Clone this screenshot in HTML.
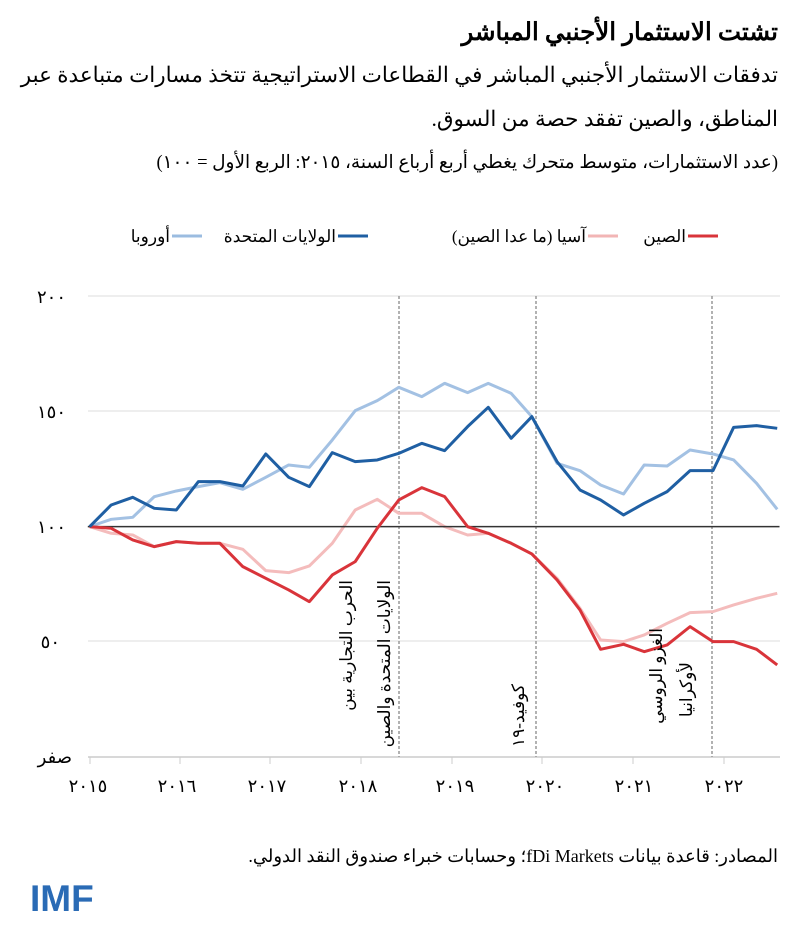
<!DOCTYPE html>
<html><head><meta charset="utf-8"><style>
html,body{margin:0;padding:0;background:#fff;width:800px;height:944px;overflow:hidden}
</style></head><body>
<svg width="800" height="944" xmlns="http://www.w3.org/2000/svg" font-family="'Liberation Serif','Noto Sans CJK SC',serif">
<g direction="rtl" text-anchor="start">
<text x="778" y="40" font-size="24.5" font-weight="bold" fill="#000">تشتت الاستثمار الأجنبي المباشر</text>
<text x="778" y="82" font-size="21.5" fill="#000">تدفقات الاستثمار الأجنبي المباشر في القطاعات الاستراتيجية تتخذ مسارات متباعدة عبر</text>
<text x="778" y="126" font-size="21.5" fill="#000">المناطق، والصين تفقد حصة من السوق.</text>
<text x="778" y="168" font-size="18.5" fill="#000">(عدد الاستثمارات، متوسط متحرك يغطي أربع أرباع السنة، ٢٠١٥: الربع الأول = ١٠٠)</text>
</g>
<!-- legend -->
<line x1="688" y1="236" x2="718" y2="236" stroke="#d9343a" stroke-width="3"/>
<line x1="588" y1="236" x2="618" y2="236" stroke="#f2b5b5" stroke-width="3"/>
<line x1="338" y1="236" x2="368" y2="236" stroke="#1f5fa3" stroke-width="3"/>
<line x1="172" y1="236" x2="202" y2="236" stroke="#9bbce0" stroke-width="3"/>
<g direction="rtl" text-anchor="start" font-size="17">
<text x="686" y="242">الصين</text>
<text x="586" y="242">آسيا (ما عدا الصين)</text>
<text x="336" y="242">الولايات المتحدة</text>
<text x="170" y="242">أوروبا</text>
</g>
<!-- grid -->
<g stroke="#eeeeee" stroke-width="2">
<line x1="88" y1="296" x2="780" y2="296"/>
<line x1="88" y1="411" x2="780" y2="411"/>
<line x1="88" y1="641" x2="780" y2="641"/>
</g>
<line x1="88" y1="757" x2="780" y2="757" stroke="#d8d8d8" stroke-width="2"/>
<g stroke="#cccccc" stroke-width="1">
<line x1="90" y1="757" x2="90" y2="764"/><line x1="180" y1="757" x2="180" y2="764"/><line x1="270" y1="757" x2="270" y2="764"/><line x1="361" y1="757" x2="361" y2="764"/><line x1="452" y1="757" x2="452" y2="764"/><line x1="542" y1="757" x2="542" y2="764"/><line x1="633" y1="757" x2="633" y2="764"/><line x1="724" y1="757" x2="724" y2="764"/>
</g>
<g stroke="#999" stroke-width="1.5" stroke-dasharray="3,2">
<line x1="399" y1="296" x2="399" y2="757"/>
<line x1="536" y1="296" x2="536" y2="757"/>
<line x1="712" y1="296" x2="712" y2="757"/>
</g>
<!-- y labels -->
<g font-size="18" text-anchor="end">
<text x="66" y="303">٢٠٠</text>
<text x="66" y="418">١٥٠</text>
<text x="66" y="533">١٠٠</text>
<text x="60" y="648">٥٠</text>
</g>
<text x="72" y="763" direction="rtl" text-anchor="start" font-size="18">صفر</text>
<g font-size="18" text-anchor="middle">
<text x="88" y="792">٢٠١٥</text><text x="177" y="792">٢٠١٦</text><text x="267" y="792">٢٠١٧</text><text x="358" y="792">٢٠١٨</text><text x="455" y="792">٢٠١٩</text><text x="545" y="792">٢٠٢٠</text><text x="634" y="792">٢٠٢١</text><text x="724" y="792">٢٠٢٢</text>
</g>
<!-- series -->
<g transform="translate(80,280) scale(0.4587,0.3333)" fill="none" stroke-linejoin="round">
<polyline vector-effect="non-scaling-stroke" stroke="#f4bcbc" stroke-width="3" points="21,740 68,760 115,765 162,800 210,785 258,790 305,790 355,808 405,872 455,878 500,858 550,790 600,690 648,658 695,700 745,700 795,740 845,765 890,760 940,790 985,822 1040,895 1090,985 1135,1080 1185,1085 1230,1065 1280,1030 1330,998 1380,995 1425,975 1475,955 1520,940"/>
<polyline vector-effect="non-scaling-stroke" stroke="#a3c1e3" stroke-width="3" points="21,740 68,718 115,712 162,650 210,633 258,620 305,608 355,628 405,592 455,555 500,562 550,480 600,392 648,362 695,322 745,350 795,310 845,338 890,310 940,340 985,410 1040,550 1090,572 1135,615 1185,642 1230,555 1280,558 1330,510 1380,522 1425,540 1475,610 1520,688"/>
<line vector-effect="non-scaling-stroke" x1="17" y1="740" x2="1525" y2="740" stroke="#333" stroke-width="1.5"/>
<polyline vector-effect="non-scaling-stroke" stroke="#d9343a" stroke-width="3" points="21,740 68,745 115,780 162,800 210,785 258,790 305,790 355,860 405,895 455,930 500,965 550,885 600,845 648,745 695,660 745,623 795,650 845,740 890,760 940,790 985,822 1040,900 1090,990 1135,1108 1185,1093 1230,1115 1280,1095 1330,1040 1380,1085 1425,1085 1475,1108 1520,1155"/>
<polyline vector-effect="non-scaling-stroke" stroke="#1f5fa3" stroke-width="3" points="21,740 68,675 115,652 162,685 210,690 258,605 305,605 355,618 405,522 455,592 500,620 550,518 600,545 648,540 695,520 745,490 795,512 845,440 890,382 940,475 985,410 1040,545 1090,630 1135,660 1185,705 1230,670 1280,635 1330,572 1380,572 1425,442 1475,437 1520,445"/>
</g>
<!-- annotations -->
<g font-size="17" direction="rtl" text-anchor="start">
<text transform="translate(352,580) rotate(-90)">الحرب التجارية بين</text>
<text transform="translate(390,580) rotate(-90)">الولايات المتحدة والصين</text>
<text transform="translate(524,684) rotate(-90)">كوفيد-١٩</text>
<text transform="translate(662,628) rotate(-90)">الغزو الروسي</text>
<text transform="translate(692,662) rotate(-90)">لأوكرانيا</text>
</g>
<text x="778" y="862" text-anchor="start" font-size="18" direction="rtl">المصادر: قاعدة بيانات fDi Markets؛ وحسابات خبراء صندوق النقد الدولي.</text>
<text x="30" y="911" font-family="'Liberation Sans',sans-serif" font-weight="bold" font-size="37" fill="#2a6bb5">IMF</text>
</svg>
</body></html>
